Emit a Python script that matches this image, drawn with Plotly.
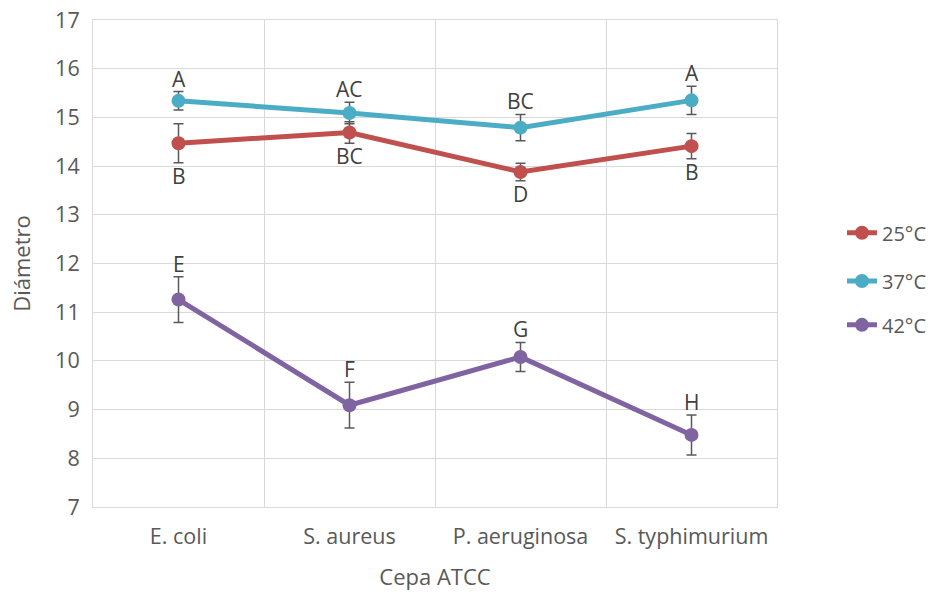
import plotly.graph_objects as go

categories = ["E. coli", "S. aureus", "P. aeruginosa", "S. typhimurium"]
series_names = ["25°C", "37°C", "42°C"]
values = {
    "25°C": [14.47, 14.69, 13.88, 14.41],
    "37°C": [15.34, 15.09, 14.79, 15.35],
    "42°C": [11.26, 9.09, 10.08, 8.48],
}
errors = {
    "25°C": [0.40, 0.22, 0.18, 0.26],
    "37°C": [0.19, 0.22, 0.27, 0.29],
    "42°C": [0.47, 0.47, 0.30, 0.41],
}
letters = {
    "25°C": ["B", "BC", "D", "B"],
    "37°C": ["A", "AC", "BC", "A"],
    "42°C": ["E", "F", "G", "H"],
}
label_side = {"25°C": "below", "37°C": "above", "42°C": "above"}
colors = {"25°C": "#C0504D", "37°C": "#4BACC6", "42°C": "#8064A2"}
legend_ids = {"25°C": "legend", "37°C": "legend2", "42°C": "legend3"}
legend_y = {"25°C": 0.563, "37°C": 0.464, "42°C": 0.374}

font_family = "Open Sans, Liberation Sans, sans-serif"
text_color = "#595959"
fig = go.Figure()
annotations = []
for name in series_names:
    fig.add_trace(go.Scatter(
        x=categories, y=values[name], name=name, mode="lines+markers",
        line=dict(color=colors[name], width=5),
        marker=dict(color=colors[name], size=14),
        error_y=dict(type="data", array=errors[name], color="#595959",
                     thickness=1.5, width=5),
        legend=legend_ids[name],
    ))
    for c, v, e, t in zip(categories, values[name], errors[name], letters[name]):
        if label_side[name] == "above":
            annotations.append(dict(x=c, y=v + e, text=t, showarrow=False,
                                    yanchor="bottom", yshift=-3,
                                    font=dict(size=21, color="#404040", family=font_family)))
        else:
            annotations.append(dict(x=c, y=v - e, text=t, showarrow=False,
                                    yanchor="top", yshift=3,
                                    font=dict(size=21, color="#404040", family=font_family)))

layout_legends = {}
for name in series_names:
    layout_legends[legend_ids[name]] = dict(
        x=1.095, y=legend_y[name], xanchor="left", yanchor="middle",
        font=dict(size=20, color=text_color, family=font_family),
        bgcolor="rgba(0,0,0,0)", itemwidth=30,
    )

fig.update_layout(
    width=930, height=592,
    margin=dict(l=93, r=153, t=20, b=85, autoexpand=False),
    paper_bgcolor="white", plot_bgcolor="white",
    showlegend=True,
    annotations=annotations,
    xaxis=dict(
        type="category", range=[-0.5, 3.5], tickson="boundaries", ticks="",
        showgrid=True, gridcolor="#D9D9D9", gridwidth=1,
        showline=True, linecolor="#D9D9D9", mirror=True, automargin=False,
        tickfont=dict(size=21.5, color=text_color, family=font_family),
        ticklabelstandoff=10,
        title=dict(text="Cepa ATCC", font=dict(size=22, color=text_color, family=font_family), standoff=20),
    ),
    yaxis=dict(
        range=[7, 17], dtick=1, showgrid=True, gridcolor="#D9D9D9", gridwidth=1,
        showline=True, linecolor="#D9D9D9", mirror=True, zeroline=False, automargin=False,
        tickfont=dict(size=21.5, color=text_color, family=font_family), ticks="",
        ticklabelstandoff=8,
        title=dict(text="Diámetro", font=dict(size=22, color=text_color, family=font_family), standoff=18),
    ),
    **layout_legends,
)

fig.write_html("out.html")
